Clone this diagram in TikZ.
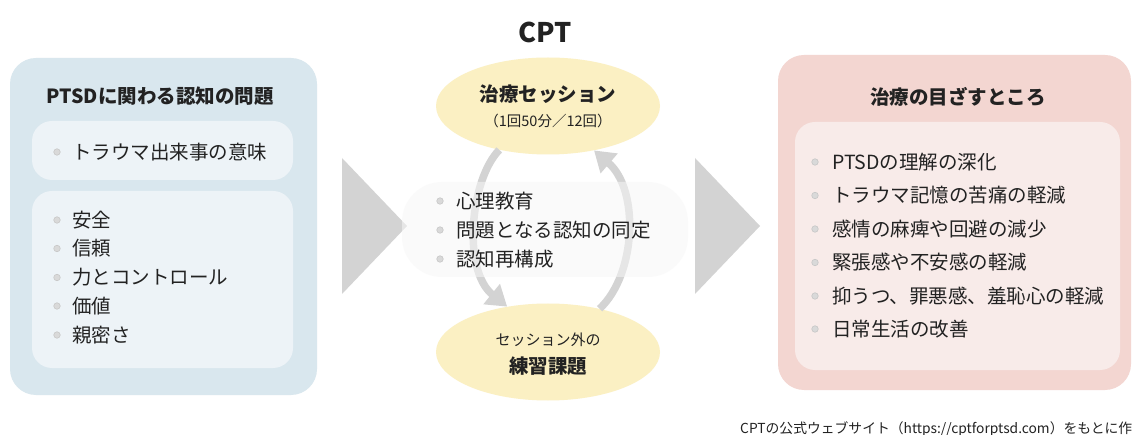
\documentclass[tikz,border=0pt]{standalone}
\usepackage{fontspec}
\setmainfont{Noto Sans CJK JP}
\usetikzlibrary{arrows.meta,shapes.geometric}
\definecolor{lblue}{HTML}{D9E7EE}
\definecolor{lbluein}{HTML}{EDF3F7}
\definecolor{lpink}{HTML}{F3D6D1}
\definecolor{lpinkin}{HTML}{F8EBE9}
\definecolor{lyellow}{HTML}{FBF0C3}
\definecolor{tri}{HTML}{D3D3D3}
\definecolor{arr}{HTML}{D3D3D3}
\definecolor{midfill}{HTML}{F7F7F7}
\definecolor{txt}{HTML}{222222}
\tikzset{
  outerbox/.style={rectangle, rounded corners=26pt, inner sep=0pt},
  innerbox/.style={rectangle, rounded corners=20pt, inner sep=0pt},
  ell/.style={ellipse, fill=lyellow, inner sep=0pt, minimum width=224pt, minimum height=97pt},
  ttl/.style={font=\fontsize{19.5}{23}\selectfont\bfseries, text=txt, inner sep=0pt},
  itm/.style={anchor=west, font=\fontsize{19.5}{23}\selectfont, text=txt, inner sep=0pt},
  bul/.style={circle, inner sep=0pt, minimum size=6.5pt, fill=black!15, draw=black!22, line width=0.6pt},
  cyc/.style={draw=arr, line width=7.5pt, -{Triangle[width=25pt,length=20pt]}}
}
\begin{document}
\begin{tikzpicture}[x=1pt,y=-1pt]
\useasboundingbox (0,0) rectangle (1132,435);
\fill[white] (0,0) rectangle (1132,435);
% left panel
\node[outerbox, fill=lblue, minimum width=307pt, minimum height=337pt] (L) at (163.5,226.5) {};
\node[innerbox, fill=lbluein, minimum width=261pt, minimum height=59pt] (L1) at (162.5,150.5) {};
\node[innerbox, fill=lbluein, minimum width=261pt, minimum height=177pt] (L2) at (162.5,279.5) {};
\node[ttl] (Lt) at (160,96) {PTSDに関わる認知の問題};
\node[bul] (lb0) at (57,152) {};
\node[itm] (li0) at (72,152) {トラウマ出来事の意味};
\foreach \t/\y [count=\i] in {安全/220,信頼/248.5,力とコントロール/277.5,価値/306,親密さ/335}{
  \node[bul] (lb\i) at (57,\y) {};
  \node[itm] (li\i) at (72,\y) {\t};
}
% triangles
\fill[tri] (342,158) -- (407,226) -- (342,294) -- cycle;
\fill[tri] (695,158) -- (760,226) -- (695,294) -- cycle;
% CPT
\node[font=\fontsize{27}{30}\selectfont\bfseries, text=txt, inner sep=0pt] (cpt) at (545,32) {CPT};
\node[ell] (T) at (548,106) {};
\node[ttl] (Tt) at (548,94) {治療セッション};
\node[font=\fontsize{14.5}{17}\selectfont, text=txt, inner sep=0pt] (Ts) at (548,121) {（1回50分／12回）};
\node[ell] (B) at (548,352) {};
\node[font=\fontsize{15}{18}\selectfont, text=txt, inner sep=0pt] (Bs) at (548,340) {セッション外の};
\node[ttl] (Bt) at (548,366) {練習課題};
% cycle arrows
\draw[cyc] (T.222) .. controls (470,180) and (462,270) .. (B.132);
\draw[cyc] (B.40) .. controls (636,275) and (640,190) .. (T.316);
% middle box
\node[innerbox, rounded corners=40pt, fill=midfill, fill opacity=0.55, minimum width=286pt, minimum height=95pt] (M) at (545,229.5) {};
\foreach \t/\y [count=\i] in {心理教育/201,問題となる認知の同定/230,認知再構成/259}{
  \node[bul] (mb\i) at (440,\y) {};
  \node[itm] (mi\i) at (456,\y) {\t};
}
% right panel
\node[outerbox, fill=lpink, minimum width=353pt, minimum height=335pt] (R) at (954.5,222.5) {};
\node[innerbox, fill=lpinkin, minimum width=325pt, minimum height=248pt] (R1) at (957.5,246) {};
\node[ttl] (Rt) at (958,97) {治療の目ざすところ};
\foreach \t/\y [count=\i] in {PTSDの理解の深化/162,トラウマ記憶の苦痛の軽減/195.5,感情の麻痺や回避の減少/229,緊張感や不安感の軽減/262.5,抑うつ、罪悪感、羞恥心の軽減/296,日常生活の改善/329}{
  \node[bul] (rb\i) at (815,\y) {};
  \node[itm] (ri\i) at (832,\y) {\t};
}
% footnote (cut at the right edge, as in the reference)
\node[anchor=west, font=\fontsize{13.8}{16}\selectfont, text=txt, inner sep=0pt] (fn) at (740,429) {CPTの公式ウェブサイト（https://cptforptsd.com）をもとに作成};
\end{tikzpicture}
\end{document}
